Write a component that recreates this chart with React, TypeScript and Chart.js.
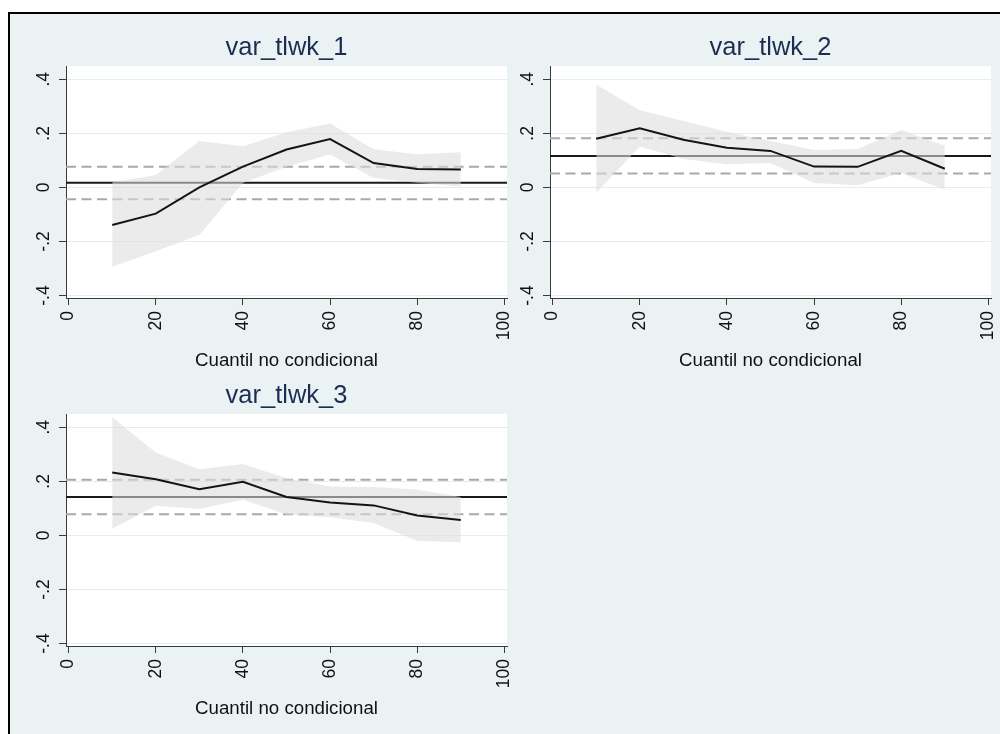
import React, { useEffect, useRef } from "react";
import { Chart, registerables } from "chart.js";

Chart.register(...registerables);

// ---------- data ----------
const quantiles = [10, 20, 30, 40, 50, 60, 70, 80, 90];

const titles = ["var_tlwk_1", "var_tlwk_2", "var_tlwk_3"];
const xAxisTitle = "Cuantil no condicional";

const coef1 = [-0.139, -0.097, 0.0, 0.077, 0.14, 0.179, 0.09, 0.068, 0.066];
const upper1 = [0.019, 0.046, 0.172, 0.152, 0.204, 0.236, 0.141, 0.123, 0.13];
const lower1 = [-0.293, -0.236, -0.176, 0.016, 0.076, 0.122, 0.035, 0.017, 0.003];
const ref1 = [0.017, 0.076, -0.044]; // OLS estimate, upper CI, lower CI

const coef2 = [0.18, 0.219, 0.176, 0.147, 0.135, 0.077, 0.076, 0.135, 0.069];
const upper2 = [0.381, 0.285, 0.246, 0.206, 0.172, 0.138, 0.142, 0.212, 0.154];
const lower2 = [-0.021, 0.151, 0.105, 0.086, 0.09, 0.016, 0.008, 0.053, -0.009];
const ref2 = [0.116, 0.182, 0.051];

const coef3 = [0.233, 0.208, 0.171, 0.198, 0.142, 0.122, 0.111, 0.074, 0.057];
const upper3 = [0.437, 0.307, 0.245, 0.264, 0.211, 0.181, 0.179, 0.17, 0.142];
const lower3 = [0.025, 0.11, 0.098, 0.132, 0.077, 0.067, 0.046, -0.021, -0.025];
const ref3 = [0.142, 0.206, 0.078];

const xTickValues = [0, 20, 40, 60, 80, 100];
const xTickLabels = ["0", "20", "40", "60", "80", "100"];
const yTickValues = [-0.4, -0.2, 0, 0.2, 0.4];
const yTickLabels = ["-.4", "-.2", "0", ".2", ".4"];

const xMin = -0.6;
const xMax = 100.6;
const yMin = -0.409;
const yMax = 0.449;

// ---------- styling ----------
const FONT = "'Liberation Sans', Arial, Helvetica, sans-serif";
const BG = "#eaf2f3";
const TITLE_COLOR = "#1c2d52";
const RIGHT_PAD = 16;

type Panel = {
  title: string;
  coef: number[];
  upper: number[];
  lower: number[];
  ref: number[];
  left: number;
  top: number;
  width: number;
  height: number;
  yWidth: number;
};

const panels: Panel[] = [
  { title: titles[0], coef: coef1, upper: upper1, lower: lower1, ref: ref1, left: 10, top: 33, width: 497 + RIGHT_PAD, height: 340, yWidth: 56 },
  { title: titles[1], coef: coef2, upper: upper2, lower: lower2, ref: ref2, left: 510, top: 33, width: 481 + RIGHT_PAD, height: 340, yWidth: 40 },
  { title: titles[2], coef: coef3, upper: upper3, lower: lower3, ref: ref3, left: 10, top: 381, width: 497 + RIGHT_PAD, height: 340, yWidth: 56 },
];

const whiteArea = {
  id: "whiteArea",
  beforeDraw(chart: any) {
    const { ctx, chartArea } = chart;
    ctx.save();
    ctx.fillStyle = "#ffffff";
    ctx.fillRect(chartArea.left, chartArea.top, chartArea.right - chartArea.left, chartArea.bottom - chartArea.top);
    ctx.restore();
  },
};

function hline(v: number) {
  return [
    { x: xMin, y: v },
    { x: xMax, y: v },
  ];
}

function makeConfig(p: Panel): any {
  const pts = (arr: number[]) => quantiles.map((q, i) => ({ x: q, y: arr[i] }));
  return {
    type: "line",
    data: {
      datasets: [
        { data: hline(p.ref[0]), borderColor: "#1a1a1a", borderWidth: 2, pointRadius: 0, order: 2 },
        { data: hline(p.ref[1]), borderColor: "#a9a9a9", borderWidth: 2, borderDash: [10, 5.5], pointRadius: 0, order: 2 },
        { data: hline(p.ref[2]), borderColor: "#a9a9a9", borderWidth: 2, borderDash: [10, 5.5], pointRadius: 0, order: 2 },
        {
          data: pts(p.upper),
          borderWidth: 0,
          borderColor: "rgba(0,0,0,0)",
          backgroundColor: "rgba(220,220,220,0.58)",
          fill: "+1",
          pointRadius: 0,
          order: 1,
        },
        { data: pts(p.lower), borderWidth: 0, borderColor: "rgba(0,0,0,0)", fill: false, pointRadius: 0, order: 1 },
        { data: pts(p.coef), borderColor: "#141414", borderWidth: 2, fill: false, pointRadius: 0, order: 0 },
      ],
    },
    options: {
      animation: false,
      responsive: false,
      maintainAspectRatio: false,
      layout: { padding: { left: 0, top: 0, bottom: 0, right: RIGHT_PAD } },
      plugins: {
        legend: { display: false },
        tooltip: { enabled: false },
        title: {
          display: true,
          text: p.title,
          fullSize: false,
          color: TITLE_COLOR,
          font: { family: FONT, size: 25.5, weight: "normal", lineHeight: 1.2 },
          padding: { top: 0, bottom: 2.4 },
        },
      },
      scales: {
        x: {
          type: "linear",
          min: xMin,
          max: xMax,
          afterBuildTicks: (s: any) => {
            s.ticks = xTickValues.map((v) => ({ value: v }));
          },
          afterFit: (s: any) => {
            s.height = 75;
            s.paddingLeft = 0;
            s.paddingRight = 0;
          },
          ticks: {
            minRotation: 90,
            maxRotation: 90,
            padding: 6,
            color: "#111111",
            font: { family: FONT, size: 17.5 },
            callback: (_v: any, i: number) => xTickLabels[i],
          },
          grid: {
            drawOnChartArea: false,
            drawTicks: true,
            tickLength: 7,
            tickColor: "#3a3a3a",
            tickWidth: 1,
          },
          border: { display: true, color: "#3a3a3a", width: 1 },
          title: {
            display: true,
            text: xAxisTitle,
            color: "#111111",
            font: { family: FONT, size: 18.7, lineHeight: 1.2 },
            padding: { top: 0, bottom: 0.8 },
          },
        },
        y: {
          type: "linear",
          min: yMin,
          max: yMax,
          afterBuildTicks: (s: any) => {
            s.ticks = yTickValues.map((v) => ({ value: v }));
          },
          afterFit: (s: any) => {
            s.width = p.yWidth;
            s.paddingTop = 0;
            s.paddingBottom = 0;
          },
          ticks: {
            minRotation: 90,
            maxRotation: 90,
            crossAlign: "center",
            padding: 5,
            color: "#111111",
            font: { family: FONT, size: 17.5 },
            callback: (_v: any, i: number) => yTickLabels[i],
          },
          grid: {
            color: "#e3edef",
            lineWidth: 1,
            drawTicks: true,
            tickLength: 7,
            tickColor: "#3a3a3a",
            tickWidth: 1,
          },
          border: { display: true, color: "#3a3a3a", width: 1 },
        },
      },
    },
    plugins: [whiteArea],
  };
}

export default function App() {
  const r0 = useRef<HTMLCanvasElement | null>(null);
  const r1 = useRef<HTMLCanvasElement | null>(null);
  const r2 = useRef<HTMLCanvasElement | null>(null);
  const refs = [r0, r1, r2];

  useEffect(() => {
    document.body.style.overflow = "hidden";
    const charts: Chart[] = [];
    panels.forEach((p, i) => {
      const c = refs[i].current;
      if (c) charts.push(new Chart(c, makeConfig(p)));
    });
    return () => charts.forEach((c) => c.destroy());
  }, []);

  return (
    <div>
      <div
        style={{
          position: "fixed",
          left: 8,
          top: 12,
          width: 1010,
          height: 740,
          border: "2px solid #000",
          background: BG,
          boxSizing: "border-box",
        }}
      />
      {panels.map((p, i) => (
        <canvas
          key={i}
          ref={refs[i]}
          width={p.width}
          height={p.height}
          style={{ position: "fixed", left: p.left, top: p.top, width: p.width, height: p.height }}
        />
      ))}
    </div>
  );
}
